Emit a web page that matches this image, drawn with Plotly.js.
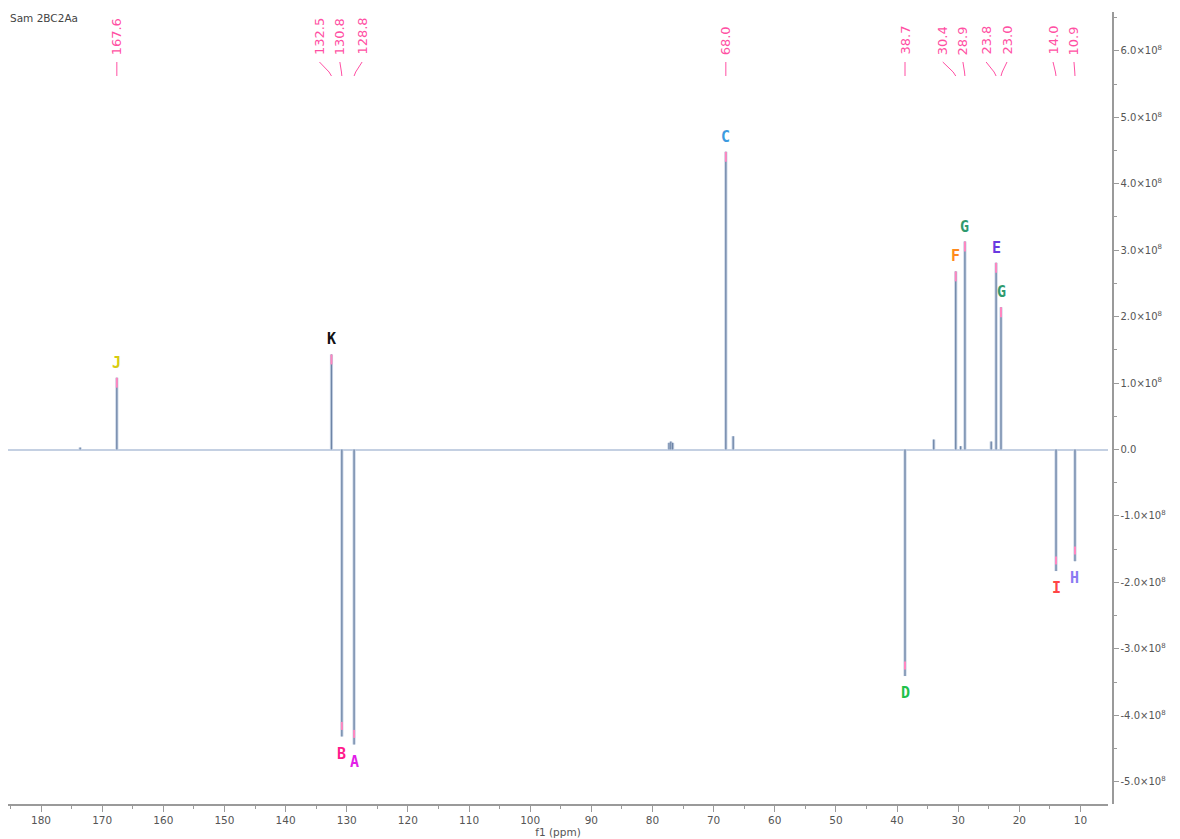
<!DOCTYPE html>
<html>
<head>
<meta charset="utf-8">
<script src="https://cdn.plot.ly/plotly-3.0.1.min.js"></script>
<style>
  html, body { margin: 0; padding: 0; background: #ffffff; }
  #plot { width: 1180px; height: 839px; }
</style>
</head>
<body>
<div id="plot"></div>
<script>
// 13C spectrum, picked peaks (ppm) and intensities in units of 1e8
const shiftPpm   = [167.6, 132.5, 130.8, 128.8, 68.0, 38.7, 30.4, 28.9, 23.8, 23.0, 14.0, 10.9];
const intensity  = [1.08, 1.43, -4.32, -4.44, 4.48, -3.41, 2.68, 3.13, 2.81, 2.14, -1.83, -1.68];
const assignment = ['J', 'K', 'B', 'A', 'C', 'D', 'F', 'G', 'E', 'G', 'I', 'H'];
const shiftText  = ['167.6', '132.5', '130.8', '128.8', '68.0', '38.7', '30.4', '28.9', '23.8', '23.0', '14.0', '10.9'];

// small unassigned signals (solvent, impurities)
const minorPpm       = [173.6, 77.3, 77.0, 76.7, 66.8, 34.0, 29.6, 24.6];
const minorIntensity = [0.03, 0.10, 0.12, 0.10, 0.20, 0.15, 0.05, 0.12];

// y-axis ticks (units of 1e8)
const yTickVals = [-5, -4, -3, -2, -1, 0, 1, 2, 3, 4, 5, 6];

// styling
const assignColor = {
  J: '#d8cc10', K: '#111111', B: '#ff1a8c', A: '#e21ee8', C: '#3c9be0',
  D: '#1ec24a', F: '#ff8a1c', G: '#2f9a6e', E: '#6a3ae0', I: '#ff4545', H: '#8a7cf2'
};
const labelShiftPx = [0, -12, -2, 8, 0, 0, -13, -2, -10, 6, -3, -1];
const pink = '#ff4fa3';

// stick spectrum
const allPpm = shiftPpm.concat(minorPpm);
const allInt = intensity.concat(minorIntensity);
const specX = [], specY = [];
allPpm.forEach((p, i) => { specX.push(p, p, null); specY.push(0, allInt[i], null); });

// peak-pick marks near each tip
const tipX = [], tipY = [];
shiftPpm.forEach((p, i) => {
  const h = intensity[i];
  tipX.push(p, p, null);
  if (h > 0) tipY.push(h, h - 0.15, null);
  else tipY.push(h + 0.1, h + 0.22, null);
});

const traces = [
  { x: specX, y: specY, mode: 'lines', type: 'scatter',
    line: { color: '#c9d5e6', width: 3.2 }, hoverinfo: 'skip', showlegend: false },
  { x: specX, y: specY, mode: 'lines', type: 'scatter',
    line: { color: '#6d84a6', width: 1.3 }, hoverinfo: 'skip', showlegend: false },
  { x: tipX, y: tipY, mode: 'lines', type: 'scatter',
    line: { color: '#ff86c0', width: 2 }, hoverinfo: 'skip', showlegend: false }
];

const annotations = [];
const shapes = [];

// assignment letters
shiftPpm.forEach((p, i) => {
  const h = intensity[i];
  annotations.push({
    x: p, y: h, xref: 'x', yref: 'y', text: assignment[i], showarrow: false,
    yshift: h > 0 ? 15 : -17, xanchor: 'center', yanchor: 'middle',
    font: { family: 'DejaVu Sans Mono, Liberation Mono, monospace',
            size: 15, color: assignColor[assignment[i]], weight: 700 }
  });
});

// chemical-shift labels along the top with connectors
const plotTop = 12, plotBottom = 804, plotH = plotBottom - plotTop;
const py = (px) => (plotBottom - px) / plotH;
shiftPpm.forEach((p, i) => {
  annotations.push({
    x: p, xref: 'x', xshift: labelShiftPx[i], y: py(57), yref: 'paper',
    text: shiftText[i], textangle: -90, showarrow: false,
    xanchor: 'center', yanchor: 'bottom',
    font: { family: 'DejaVu Sans, Verdana, sans-serif', size: 13, color: pink }
  });
  shapes.push({
    type: 'line', xref: 'x', xsizemode: 'pixel', xanchor: p,
    x0: labelShiftPx[i], x1: labelShiftPx[i] * 0.2, yref: 'paper', y0: py(62), y1: py(72),
    line: { color: pink, width: 1 }
  });
  shapes.push({
    type: 'line', xref: 'x', xsizemode: 'pixel', xanchor: p,
    x0: labelShiftPx[i] * 0.2, x1: 0, yref: 'paper', y0: py(72), y1: py(76),
    line: { color: pink, width: 1 }
  });
});

// sample name
annotations.push({
  x: 0, y: py(18), xref: 'paper', yref: 'paper', text: 'Sam 2BC2Aa', showarrow: false,
  xanchor: 'left', yanchor: 'middle',
  font: { family: 'DejaVu Sans, Verdana, sans-serif', size: 10.5, color: '#444444' }
});

const yTickText = yTickVals.map(v => v === 0 ? '0.0' : (v < 0 ? '-' : '') + Math.abs(v).toFixed(1) + '×10<sup>8</sup>');

const layout = {
  width: 1180, height: 839,
  margin: { l: 8, r: 68, t: plotTop, b: 839 - plotBottom, pad: 0 },
  paper_bgcolor: '#ffffff', plot_bgcolor: '#ffffff',
  showlegend: false,
  xaxis: {
    domain: [0, 1100 / 1104],
    range: [185.4, 5.5], autorange: false,
    showgrid: false, zeroline: false,
    showline: true, linecolor: '#9a9a9a', linewidth: 1.5,
    ticks: 'outside', ticklen: 6, tickcolor: '#9a9a9a', tickwidth: 1,
    tick0: 0, dtick: 10,
    minor: { ticks: 'outside', ticklen: 3, tickcolor: '#9a9a9a', dtick: 5, tick0: 0, showgrid: false },
    tickfont: { family: 'DejaVu Sans, Verdana, sans-serif', size: 10.5, color: '#555555' },
    title: { text: 'f1 (ppm)', standoff: 0,
             font: { family: 'DejaVu Sans, Verdana, sans-serif', size: 10.5, color: '#555555' } }
  },
  yaxis: {
    range: [-5.335, 6.584], autorange: false,
    side: 'right', anchor: 'free', position: 1,
    showgrid: false,
    zeroline: true, zerolinecolor: '#c4d0e2', zerolinewidth: 2,
    showline: true, linecolor: '#9a9a9a', linewidth: 1.5,
    ticks: 'outside', ticklen: 5, tickcolor: '#9a9a9a',
    tickmode: 'array', tickvals: yTickVals, ticktext: yTickText,
    minor: { ticks: 'outside', ticklen: 3, tickcolor: '#9a9a9a', dtick: 0.5, tick0: 0, showgrid: false },
    tickfont: { family: 'DejaVu Sans, Verdana, sans-serif', size: 10, color: '#555555' }
  },
  annotations: annotations,
  shapes: shapes
};

Plotly.newPlot('plot', traces, layout, { displayModeBar: false, staticPlot: true });
</script>
</body>
</html>
